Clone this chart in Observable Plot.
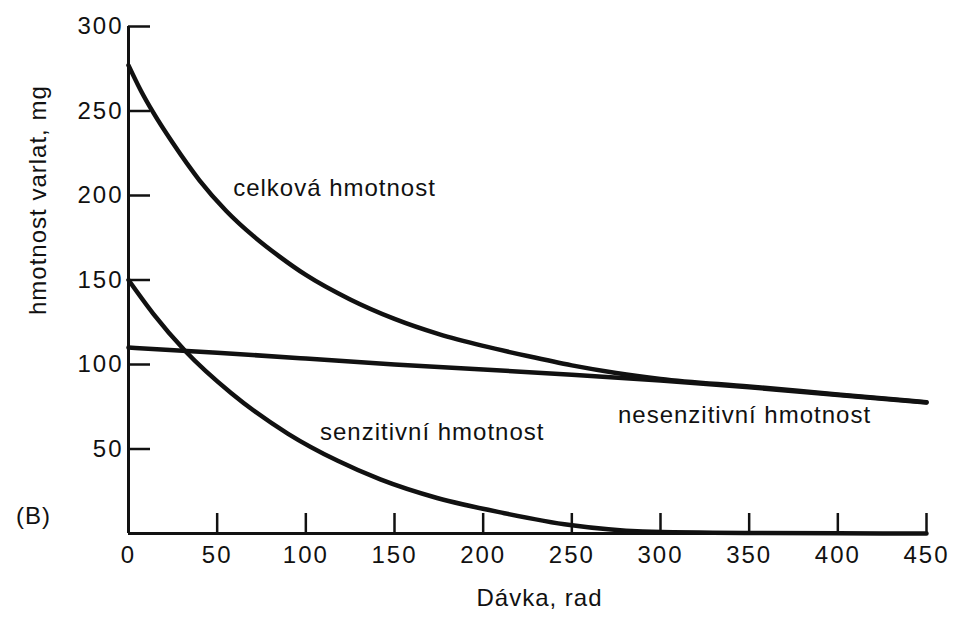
<!DOCTYPE html>
<html>
<head>
<meta charset="utf-8">
<script src="https://cdn.jsdelivr.net/npm/d3@7"></script>
<script src="https://cdn.jsdelivr.net/npm/@observablehq/plot@0.6"></script>
<style>
  body { margin: 0; background: #fff; }
  #chart svg text { letter-spacing: 1px; }
  #chart svg g[aria-label="y-axis tick label"] text,
  #chart svg g[aria-label="x-axis tick label"] text { letter-spacing: 2px; }
</style>
</head>
<body>
<div id="chart"></div>
<script>
// celková hmotnost (total mass)
const totalDose = [0, 7, 14, 25, 40, 55, 71, 85, 100, 125, 150, 175, 200, 225, 250, 275, 300, 350, 400, 450];
const totalMass = [277, 262, 249, 231, 209, 191, 175.5, 164, 153, 138.5, 127, 118, 111, 105, 99.5, 95, 91.5, 87, 82.3, 77.7];
// senzitivní hmotnost (sensitive mass)
const sensDose = [0, 14, 32, 58, 90, 118, 142, 174, 212, 249, 290, 350, 400, 450];
const sensMass = [150, 130, 108, 83, 59, 43, 32, 21, 12, 5, 1.2, 0.3, 0.1, 0];
// nesenzitivní hmotnost (insensitive mass)
const insDose = [0, 50, 100, 150, 200, 250, 300, 350, 400, 450];
const insMass = [110, 107, 103.5, 100, 97, 94, 90.5, 86.5, 82, 77.5];

// curve labels
const labelText = ["celková hmotnost", "senzitivní hmotnost", "nesenzitivní hmotnost"];
const labelDose = [59, 108, 276];
const labelMass = [204, 60, 70];

const xTicks = [0, 50, 100, 150, 200, 250, 300, 350, 400, 450];
const yTicks = [50, 100, 150, 200, 250, 300];
const xTitle = "Dávka, rad";
const yTitle = "hmotnost varlat, mg";
const panelTag = "(B)";

const toRows = (xs, ys) => xs.map((x, i) => ({x, y: ys[i]}));
const total = toRows(totalDose, totalMass);
const sens = toRows(sensDose, sensMass);
const ins = toRows(insDose, insMass);
const labels = labelText.map((t, i) => ({t, x: labelDose[i], y: labelMass[i]}));

const ink = "#111";

const chart = Plot.plot({
  width: 961,
  height: 620,
  marginLeft: 128,
  marginRight: 35,
  marginTop: 26,
  marginBottom: 87,
  style: {fontFamily: "'Liberation Sans', Arial, sans-serif", background: "#fff", color: ink},
  x: {domain: [0, 450]},
  y: {domain: [0, 300]},
  marks: [
    // inward tick marks
    Plot.axisX(xTicks.filter(d => d > 0), {tickSize: -20, tickFormat: () => "", strokeWidth: 2.5, label: null}),
    Plot.axisY(yTicks, {tickSize: -22, tickFormat: () => "", strokeWidth: 2.5, label: null}),
    // tick labels
    Plot.axisX(xTicks, {tickSize: 0, tickPadding: 12, fontSize: 24, fill: ink, label: null}),
    Plot.axisY(yTicks, {tickSize: 0, tickPadding: 5, fontSize: 24, fill: ink, label: null}),
    // axis lines
    Plot.ruleX([0], {y1: 0, y2: 300, stroke: ink, strokeWidth: 3}),
    Plot.ruleY([0], {x1: 0, x2: 450, stroke: ink, strokeWidth: 3}),
    // curves
    Plot.line(ins, {x: "x", y: "y", curve: "natural", stroke: ink, strokeWidth: 4.5}),
    Plot.line(total, {x: "x", y: "y", curve: "monotone-x", stroke: ink, strokeWidth: 4.5}),
    Plot.line(sens, {x: "x", y: "y", curve: "monotone-x", stroke: ink, strokeWidth: 4.5}),
    // curve labels
    Plot.text(labels, {x: "x", y: "y", text: "t", textAnchor: "start", fontSize: 24, fill: ink}),
    // axis titles
    Plot.text([xTitle], {frameAnchor: "bottom", dx: 12, dy: 72, fontSize: 24, fill: ink}),
    Plot.text([yTitle], {frameAnchor: "left", rotate: -90, dx: -90, dy: 35, fontSize: 24, fill: ink}),
    Plot.text([panelTag], {frameAnchor: "bottom-left", dx: -95, dy: -10, textAnchor: "middle", fontSize: 24, fill: ink})
  ]
});
document.getElementById("chart").appendChild(chart);
</script>
</body>
</html>
